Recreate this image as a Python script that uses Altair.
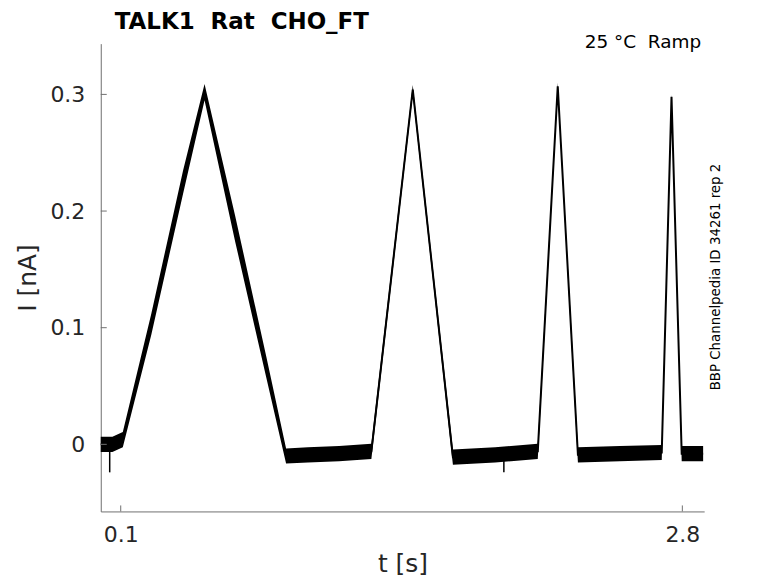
import altair as alt
import pandas as pd

# ---- data ----
t_s = [0.004, 0.060, 0.110, 0.247, 0.400, 0.503, 0.650, 0.800, 0.895,
       1.000, 1.150, 1.305, 1.504, 1.697, 1.900, 2.105, 2.201, 2.298,
       2.500, 2.701, 2.748, 2.797, 2.900]
i_nA = [0.000, 0.000, 0.004, 0.103, 0.225, 0.302, 0.185, 0.066, -0.010,
        -0.009, -0.008, -0.006, 0.304, -0.011, -0.009, -0.006, 0.307, -0.009,
        -0.008, -0.007, 0.298, -0.008, -0.008]
noise = [0.0065, 0.0065, 0.0065, 0.009, 0.010, 0.007, 0.011, 0.009, 0.0065,
         0.0065, 0.0065, 0.0065, 0.004, 0.0065, 0.0065, 0.0065, 0.003, 0.0065,
         0.0065, 0.0065, 0.002, 0.0065, 0.0065]

spike_t = [0.047, 1.942]
spike_top = [0.000, -0.009]
spike_bottom = [-0.024, -0.024]

x_ticks = [0.1, 2.8]
y_ticks = [0.0, 0.1, 0.2, 0.3]

NB = "\u00a0"
title_text = "TALK1" + NB + " Rat" + NB + " CHO_FT"
cond_text = "25 °C" + NB + " Ramp"
side_text = "BBP Channelpedia ID 34261 rep 2"

W, H = 605, 469
FONT = "DejaVu Sans"
AX = "#6f6f6f"
LAB = "#262626"

df = pd.DataFrame({"t": t_s, "I": i_nA, "n": noise})
df["lo"] = df["I"] - df["n"]
df["hi"] = df["I"] + df["n"]
spikes = pd.DataFrame({"t": spike_t, "a": spike_top, "b": spike_bottom})
xt = pd.DataFrame({"t": x_ticks})
yt = pd.DataFrame({"I": y_ticks})

xs = alt.Scale(domain=[0.004, 2.905], nice=False, zero=False)
ys = alt.Scale(domain=[-0.0575, 0.3435], nice=False, zero=False)

xaxis = alt.Axis(values=x_ticks, format=".1~f", title="t [s]", ticks=False, grid=False,
                 domainColor=AX, labelColor=LAB, labelFontSize=22, labelFont=FONT,
                 labelPadding=13, titleFont=FONT, titleFontSize=25,
                 titleFontWeight="normal", titleColor=LAB, titlePadding=6,
                 labelFlush=False)
yaxis = alt.Axis(values=y_ticks, format=".1~f", title="I [nA]", ticks=False, grid=False,
                 domainColor=AX, labelColor=LAB, labelFontSize=22, labelFont=FONT,
                 labelPadding=16, titleFont=FONT, titleFontSize=25,
                 titleFontWeight="normal", titleColor=LAB, titlePadding=9,
                 labelFlush=False)

band = alt.Chart(df).mark_area(color="black", opacity=1).encode(
    x=alt.X("t:Q", scale=xs, axis=xaxis),
    y=alt.Y("hi:Q", scale=ys, axis=yaxis),
    y2="lo:Q",
)
line = alt.Chart(df).mark_line(color="black", strokeWidth=2).encode(
    x=alt.X("t:Q", scale=xs),
    y=alt.Y("I:Q", scale=ys),
)
spk = alt.Chart(spikes).mark_rule(color="black", strokeWidth=1.5).encode(
    x=alt.X("t:Q", scale=xs),
    y=alt.Y("a:Q", scale=ys),
    y2="b:Q",
)
xtick = alt.Chart(xt).mark_rule(color=AX, strokeWidth=1).encode(
    x=alt.X("t:Q", scale=xs),
    y=alt.value(H),
    y2=alt.value(H - 6),
)
ytick = alt.Chart(yt).mark_rule(color=AX, strokeWidth=1).encode(
    y=alt.Y("I:Q", scale=ys),
    x=alt.value(0),
    x2=alt.value(6),
)
title = alt.Chart(pd.DataFrame({"s": [title_text]})).mark_text(
    align="left", baseline="alphabetic", font=FONT, fontSize=23,
    fontWeight="bold", color="black"
).encode(text="s:N", x=alt.value(14), y=alt.value(-15))
cond = alt.Chart(pd.DataFrame({"s": [cond_text]})).mark_text(
    align="right", baseline="alphabetic", font=FONT, fontSize=18.5, color="black"
).encode(text="s:N", x=alt.value(602), y=alt.value(4))
side = alt.Chart(pd.DataFrame({"s": [side_text]})).mark_text(
    align="center", baseline="middle", font=FONT, fontSize=13.4, color="black",
    angle=270
).encode(text="s:N", x=alt.value(617), y=alt.value(234))

chart = alt.layer(band, line, spk, xtick, ytick, title, cond, side).properties(
    width=W, height=H,
    autosize=alt.AutoSizeParams(type="none"),
    padding={"left": 93, "top": 35, "right": 66, "bottom": 65},
    background="white",
).configure_view(stroke=None)

chart.save("out.html", embed_options={"renderer": "svg", "actions": False})
